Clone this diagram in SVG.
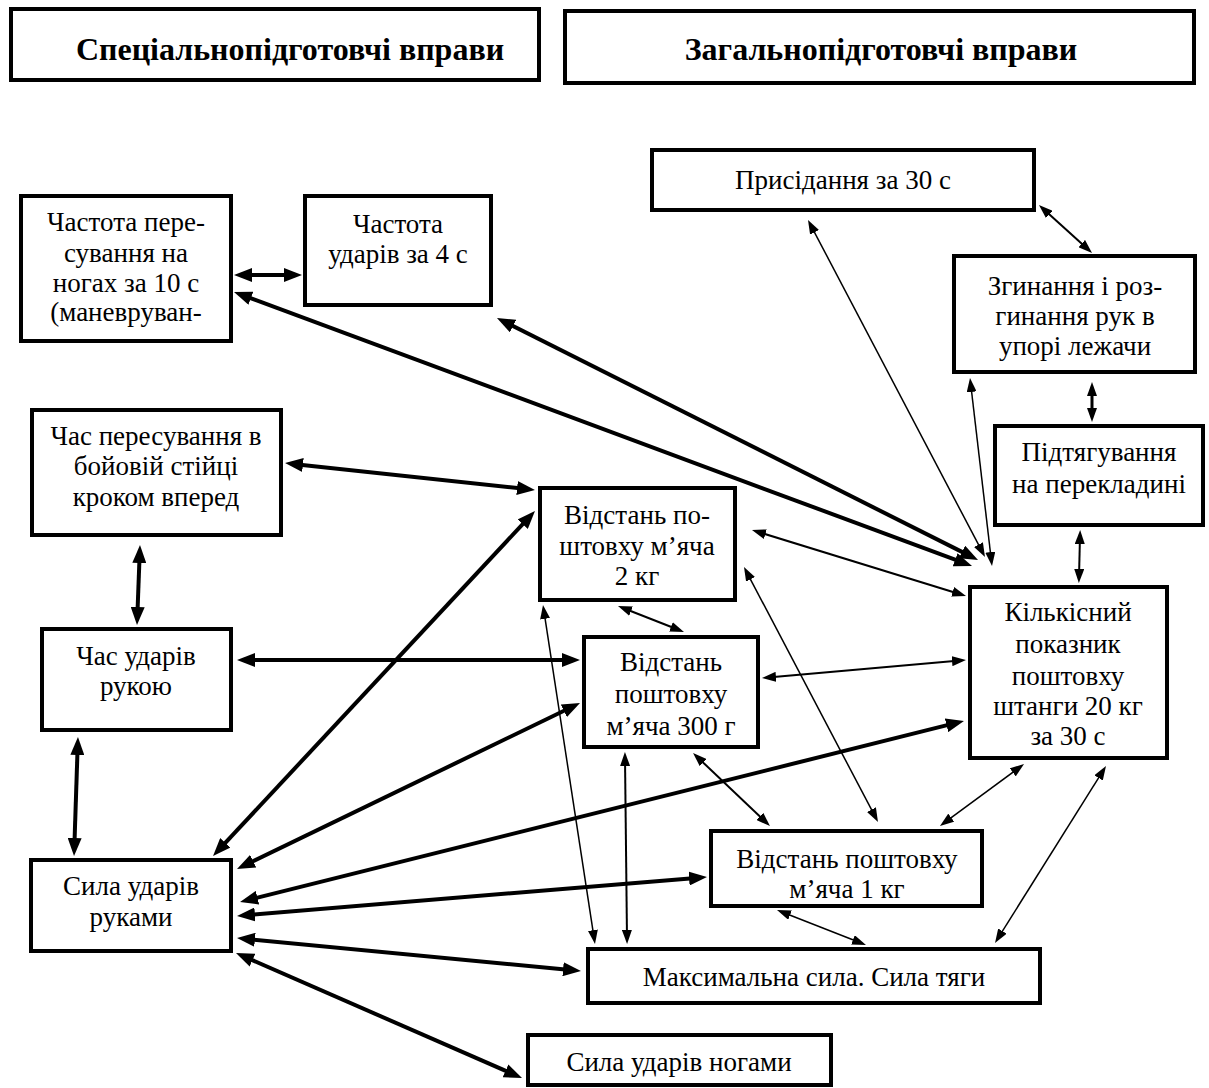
<svg xmlns="http://www.w3.org/2000/svg" width="1209" height="1088" viewBox="0 0 1209 1088">
<style>
.box{fill:#fff;stroke:#000;stroke-width:4}
.t{font-family:"Liberation Serif","Times New Roman",serif;font-size:27px;text-anchor:middle;fill:#000}
.h{font-family:"Liberation Serif","Times New Roman",serif;font-size:32px;font-weight:bold;text-anchor:middle;fill:#000}
.k{fill:none;stroke:#000;stroke-width:4;marker-start:url(#ab);marker-end:url(#ab)}
.n{fill:none;stroke:#000;stroke-width:1.5;marker-start:url(#as);marker-end:url(#as)}
.m{fill:none;stroke:#000;stroke-width:2;marker-start:url(#as);marker-end:url(#as)}
</style>
<defs>
<marker id="ab" markerUnits="userSpaceOnUse" markerWidth="18" markerHeight="14" viewBox="0 0 18 14" refX="10" refY="7" orient="auto-start-reverse"><path d="M0,0 L18,7 L0,14 z" fill="#000"/></marker>
<marker id="as" markerUnits="userSpaceOnUse" markerWidth="14" markerHeight="10" viewBox="0 0 14 10" refX="8" refY="5" orient="auto-start-reverse"><path d="M0,0 L14,5 L0,10 z" fill="#000"/></marker>
</defs>
<rect width="1209" height="1088" fill="#fff"/>
<g id="hdr-special"><rect class="box" x="11" y="9" width="528" height="71"/><text class="h" x="290" y="60">Спеціальнопідготовчі вправи</text></g>
<g id="hdr-general"><rect class="box" x="565" y="11" width="629" height="72"/><text class="h" x="881" y="60">Загальнопідготовчі вправи</text></g>
<g id="connectors">
<line class="k" x1="242" y1="275" x2="294" y2="275"/>
<line class="k" x1="241.5" y1="294.8" x2="964.5" y2="563.2"/>
<line class="k" x1="504.1" y1="321.6" x2="970.9" y2="556.4"/>
<line class="k" x1="293" y1="463.9" x2="527" y2="489.1"/>
<line class="k" x1="139.7" y1="553" x2="137.3" y2="617"/>
<line class="k" x1="245" y1="660" x2="572" y2="660"/>
<line class="k" x1="77.7" y1="745" x2="74.3" y2="848"/>
<line class="k" x1="218.5" y1="850.2" x2="529.5" y2="516.8"/>
<line class="k" x1="244.2" y1="865.5" x2="572.8" y2="706.5"/>
<line class="k" x1="247.8" y1="900.1" x2="956.2" y2="722.9"/>
<line class="k" x1="245" y1="915.3" x2="699" y2="877.7"/>
<line class="k" x1="245" y1="938.8" x2="573" y2="970.2"/>
<line class="k" x1="243.3" y1="956.2" x2="514.7" y2="1074.8"/>
<line class="n" x1="810.8" y1="225.3" x2="982.2" y2="551.7"/>
<line class="n" x1="970.7" y1="384" x2="991.3" y2="560"/>
<line class="m" x1="1043.4" y1="209" x2="1087.6" y2="249"/>
<line class="m" style="stroke-width:3" x1="1092" y1="388" x2="1092" y2="416"/>
<line class="m" x1="1080" y1="536" x2="1079" y2="577"/>
<line class="m" x1="757.7" y1="531.8" x2="960.3" y2="594.2"/>
<line class="m" x1="623.6" y1="608.2" x2="678.4" y2="629.8"/>
<line class="m" x1="768" y1="677.5" x2="960" y2="660.5"/>
<line class="n" x1="746.8" y1="572.3" x2="875.2" y2="816.7"/>
<line class="n" x1="543.9" y1="610.9" x2="594.1" y2="938.1"/>
<line class="m" x1="625" y1="758" x2="627" y2="938"/>
<line class="m" x1="697.4" y1="757.1" x2="765.6" y2="821.9"/>
<line class="n" x1="1019.2" y1="767.6" x2="944.8" y2="822.4"/>
<line class="n" x1="1102.8" y1="771.1" x2="998.2" y2="937.9"/>
<line class="n" x1="782.6" y1="912.2" x2="860.4" y2="942.8"/>
</g>
<g id="n-chastota-peresuv"><rect class="box" x="21" y="196" width="210" height="145"/><text class="t" x="126" y="231">Частота пере-</text><text class="t" x="126" y="262">сування на</text><text class="t" x="126" y="292">ногах за 10 с</text><text class="t" x="126" y="321">(маневруван-</text></g>
<g id="n-chastota-udariv"><rect class="box" x="305" y="196" width="186" height="109"/><text class="t" x="398" y="233">Частота</text><text class="t" x="398" y="263">ударів за 4 с</text></g>
<g id="n-prysidannia"><rect class="box" x="652" y="150" width="382" height="60"/><text class="t" x="843" y="189">Присідання за 30 с</text></g>
<g id="n-zghynannia"><rect class="box" x="954" y="256" width="241" height="116"/><text class="t" x="1075" y="295">Згинання і роз-</text><text class="t" x="1075" y="325">гинання рук в</text><text class="t" x="1075" y="355">упорі лежачи</text></g>
<g id="n-pidtiahuvannia"><rect class="box" x="995" y="426" width="208" height="99"/><text class="t" x="1099" y="461">Підтягування</text><text class="t" x="1099" y="493">на перекладині</text></g>
<g id="n-kilkisnyi"><rect class="box" x="970" y="587" width="197" height="171"/><text class="t" x="1068" y="621">Кількісний</text><text class="t" x="1068" y="653">показник</text><text class="t" x="1068" y="685">поштовху</text><text class="t" x="1068" y="715">штанги 20 кг</text><text class="t" x="1068" y="745">за 30 с</text></g>
<g id="n-2kg"><rect class="box" x="540" y="488" width="195" height="112"/><text class="t" x="637" y="524">Відстань по-</text><text class="t" x="637" y="555">штовху м’яча</text><text class="t" x="637" y="585">2 кг</text></g>
<g id="n-300g"><rect class="box" x="584" y="637" width="174" height="110"/><text class="t" x="671" y="671">Відстань</text><text class="t" x="671" y="703">поштовху</text><text class="t" x="671" y="735">м’яча 300 г</text></g>
<g id="n-1kg"><rect class="box" x="711" y="831" width="271" height="75"/><text class="t" x="847" y="868">Відстань поштовху</text><text class="t" x="847" y="898">м’яча 1 кг</text></g>
<g id="n-maks"><rect class="box" x="588" y="949" width="452" height="54"/><text class="t" x="814" y="986">Максимальна сила. Сила тяги</text></g>
<g id="n-nohamy"><rect class="box" x="528" y="1035" width="303" height="50"/><text class="t" x="679" y="1071">Сила ударів ногами</text></g>
<g id="n-rukamy"><rect class="box" x="31" y="860" width="200" height="91"/><text class="t" x="131" y="895">Сила ударів</text><text class="t" x="131" y="926">руками</text></g>
<g id="n-chas-udariv"><rect class="box" x="42" y="629" width="189" height="101"/><text class="t" x="136" y="665">Час ударів</text><text class="t" x="136" y="695">рукою</text></g>
<g id="n-chas-peresuv"><rect class="box" x="32" y="410" width="249" height="125"/><text class="t" x="156" y="445">Час пересування в</text><text class="t" x="156" y="475">бойовій стійці</text><text class="t" x="156" y="506">кроком вперед</text></g>
</svg>
